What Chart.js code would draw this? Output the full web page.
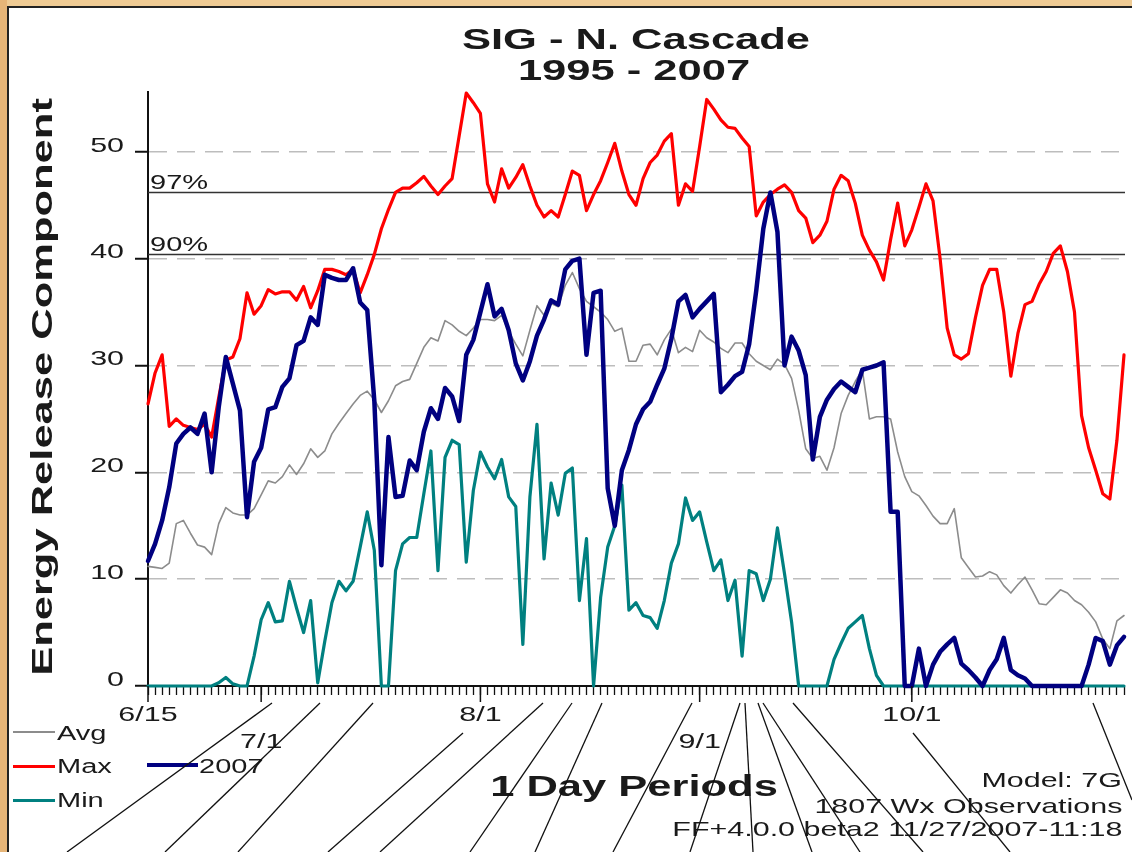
<!DOCTYPE html>
<html lang="en">
<head>
  <meta charset="UTF-8" />
  <title>SIG - N. Cascade 1995 - 2007</title>
  <script src="https://cdn.jsdelivr.net/npm/chart.js"></script>
  <style>
    html, body { margin: 0; padding: 0; background: #fff; }
    body {
      width: 1132px;
      height: 852px;
      overflow: hidden;
      font-family: 'Liberation Sans', Arial, sans-serif;
      color: #1a1a1a;
    }
    /* slide background showing round the white chart panel */
    #edgeTop { position: absolute; left: 0; top: 0; width: 1132px; height: 6px; background: #efcb94; }
    #edgeLeft { position: absolute; left: 0; top: 0; width: 7px; height: 852px; background: #e6b578; }
    #frameTop { position: absolute; left: 7px; top: 6px; width: 1125px; height: 2px; background: #222; }
    #frameLeft { position: absolute; left: 7px; top: 6px; width: 2px; height: 846px; background: #222; }
    #chart { position: absolute; left: 0; top: 0; }
    .txt { position: absolute; white-space: nowrap; line-height: 1; }
    /* the original renders its type stretched sideways */
    .mid { transform: translate(-50%, -50%) scaleX(1.45); }
    .lft { transform-origin: 0 50%; transform: translateY(-50%) scaleX(1.45); }
    .rgt { right: 10px; transform-origin: 100% 50%; transform: translateY(-50%) scaleX(1.45); }
    .key { position: absolute; }
    svg { position: absolute; left: 0; top: 0; }
  </style>
</head>
<body>
  <div id="edgeTop"></div>
  <div id="edgeLeft"></div>
  <div id="frameTop"></div>
  <div id="frameLeft"></div>
  <canvas id="chart" width="1132" height="852"></canvas>

  <div class="txt mid" style="left:636px; top:39px; font-weight:bold; font-size:30px;">SIG - N. Cascade</div>
  <div class="txt mid" style="left:634px; top:70px; font-weight:bold; font-size:30px;">1995 - 2007</div>
  <div class="txt" style="left:42px; top:387px; font-weight:bold; font-size:29px; transform: translate(-50%, -50%) rotate(-90deg) scaleX(1.5);">Energy Release Component</div>
  <div class="txt mid" style="left:634px; top:786px; font-weight:bold; font-size:30px;">1 Day Periods</div>

  <div class="key" style="left:13px; top:731px; width:42px; height:2px; background:#8c8c8c;"></div>
  <div class="txt lft" style="left:57px; top:733px; font-size:20px;">Avg</div>
  <div class="key" style="left:13px; top:765px; width:42px; height:3px; background:#ff0000;"></div>
  <div class="txt lft" style="left:57px; top:766px; font-size:20px;">Max</div>
  <div class="key" style="left:13px; top:799px; width:42px; height:3px; background:#008080;"></div>
  <div class="txt lft" style="left:57px; top:800px; font-size:20px;">Min</div>
  <div class="key" style="left:147px; top:763px; width:51px; height:4px; background:#000080;"></div>
  <div class="txt lft" style="left:199px; top:766px; font-size:20px;">2007</div>

  <div class="txt rgt" style="top:779px; font-size:21px;">Model: 7G</div>
  <div class="txt rgt" style="top:805px; font-size:21px;">1807 Wx Observations</div>
  <div class="txt rgt" style="top:828px; font-size:21px;">FF+4.0.0 beta2 11/27/2007-11:18</div>

  <!-- stray lines that run across the bottom of the scanned slide -->
  <svg width="1132" height="852" stroke="#111" stroke-width="1.3">
    <line x1="272" y1="703" x2="67" y2="852" />
    <line x1="320" y1="703" x2="165" y2="852" />
    <line x1="373" y1="703" x2="238" y2="852" />
    <line x1="463" y1="733" x2="328" y2="852" />
    <line x1="543" y1="703" x2="380" y2="852" />
    <line x1="572" y1="703" x2="470" y2="852" />
    <line x1="602" y1="703" x2="535" y2="852" />
    <line x1="692" y1="703" x2="613" y2="852" />
    <line x1="740" y1="703" x2="690" y2="852" />
    <line x1="745" y1="703" x2="753" y2="852" />
    <line x1="758" y1="703" x2="812" y2="852" />
    <line x1="763" y1="703" x2="860" y2="852" />
    <line x1="793" y1="703" x2="923" y2="852" />
    <line x1="913" y1="733" x2="1010" y2="852" />
    <line x1="1093" y1="703" x2="1132" y2="800" />
  </svg>

  <script>
    // one category per day, 6/15 .. 10/31
    const dayLabels = [];
    for (let d = new Date(2007, 5, 15); d <= new Date(2007, 9, 31); d.setDate(d.getDate() + 1)) {
      dayLabels.push((d.getMonth() + 1) + '/' + d.getDate());
    }
    const monthTicks = ['6/15', '7/1', '8/1', '9/1', '10/1'];
    const lowerRowTicks = ['7/1', '9/1'];
    const yTicks = [0, 10, 20, 30, 40, 50];
    const pctValues = [46.2, 40.4];
    const pctLabels = ['97%', '90%'];

    const erc2007 = [
      11.7, 13.3, 15.5, 18.6, 22.7, 23.6, 24.2, 23.6, 25.5, 20.0,
      26.1, 30.8, 28.3, 25.8, 15.8, 21.0, 22.3, 25.9, 26.1, 28.0,
      28.8, 31.9, 32.3, 34.5, 33.8, 38.5, 38.2, 38.0, 38.0, 39.1,
      35.9, 35.2, 26.7, 11.3, 23.3, 17.7, 17.8, 21.1, 20.2, 23.8,
      26.0, 25.0, 27.9, 27.1, 24.8, 31.0, 32.4, 35.0, 37.6, 34.6,
      35.3, 33.3, 30.2, 28.6, 30.4, 32.8, 34.3, 36.1, 35.7, 39.0,
      39.8, 40.0, 31.0, 36.8, 37.0, 18.5, 15.0, 20.2, 22.1, 24.5,
      25.9, 26.6, 28.2, 29.7, 32.5, 36.0, 36.6, 34.5, 35.3, 36.0,
      36.7, 27.5, 28.2, 29.0, 29.4, 32.0, 37.0, 42.8, 46.2, 42.5,
      30.0, 32.7, 31.4, 29.1, 21.2, 25.2, 26.8, 27.8, 28.5, 28.0,
      27.5, 29.6, 29.8, 30.0, 30.3, 16.3, 16.3, 0, 0, 3.5,
      0, 2.0, 3.2, 3.9, 4.5, 2.1, 1.5, 0.8, 0, 1.5,
      2.5, 4.5, 1.5, 1.0, 0.7, 0, 0, 0, 0, 0,
      0, 0, 0, 2.0, 4.5, 4.2, 2.0, 3.8, 4.6
    ];
    const ercMax = [
      26.4, 29.3, 31.0, 24.3, 25.0, 24.4, 24.2, 24.0, 24.5, 23.3,
      27.0, 30.5, 30.8, 32.5, 36.8, 34.8, 35.6, 37.1, 36.7, 36.9,
      36.9, 36.1, 37.4, 35.4, 37.0, 39.0, 39.0, 38.8, 38.5, 39.0,
      36.8, 38.5, 40.4, 42.8, 44.6, 46.2, 46.6, 46.6, 47.1, 47.7,
      46.8, 46.0, 46.8, 47.5, 51.5, 55.5, 54.6, 53.6, 47.0, 45.3,
      48.4, 46.6, 47.6, 48.8, 46.8, 45.0, 43.9, 44.5, 43.9, 46.0,
      48.2, 47.8, 44.5, 46.0, 47.3, 49.0, 50.8, 48.2, 46.0, 45.0,
      47.5, 49.0, 49.7, 51.0, 51.7, 45.0, 47.0, 46.3, 50.5, 54.9,
      54.0, 53.0, 52.3, 52.2, 51.3, 50.5, 44.0, 45.3, 46.0, 46.5,
      46.9, 46.2, 44.5, 43.8, 41.5, 42.2, 43.5, 46.5, 47.8, 47.3,
      45.2, 42.2, 40.8, 39.7, 38.0, 41.8, 45.2, 41.2, 42.7, 44.8,
      47.0, 45.4, 40.0, 33.5, 31.0, 30.6, 31.1, 34.5, 37.5, 39.0,
      39.0, 35.0, 29.0, 33.0, 35.7, 36.0, 37.6, 38.8, 40.5, 41.2,
      38.8, 35.0, 25.3, 22.3, 20.2, 18.0, 17.5, 23.0, 31.0
    ];
    const ercMin = [
      0, 0, 0, 0, 0, 0, 0, 0, 0, 0,
      0.3, 0.8, 0.2, 0, 0, 2.8, 6.2, 7.8, 6.0, 6.1,
      9.8, 7.3, 5.0, 8.0, 0.3, 4.2, 7.8, 9.8, 8.9, 9.8,
      13.0, 16.3, 12.7, 0, 0, 10.8, 13.3, 13.9, 13.9, 18.0,
      22.0, 10.8, 21.4, 23.0, 22.6, 11.6, 18.3, 21.9, 20.5, 19.4,
      21.2, 17.7, 16.8, 3.9, 17.7, 24.5, 11.9, 19.0, 16.0, 19.9,
      20.4, 8.0, 13.8, 0, 8.3, 13.0, 15.0, 18.8, 7.1, 7.8,
      6.6, 6.4, 5.4, 8.0, 11.5, 13.3, 17.6, 15.5, 16.3, 13.5,
      10.8, 11.8, 8.0, 9.9, 2.8, 10.8, 10.5, 8.0, 10.0, 14.8,
      10.5, 6.0, 0, 0, 0, 0, 0, 2.5, 4.0, 5.4,
      6.0, 6.6, 3.5, 1.0, 0, 0, 0, 0, 0, 0,
      0, 0, 0, 0, 0, 0, 0, 0, 0, 0,
      0, 0, 0, 0, 0, 0, 0, 0, 0, 0,
      0, 0, 0, 0, 0, 0, 0, 0, 0
    ];
    const ercAvg = [
      11.2, 11.1, 11.0, 11.5, 15.2, 15.5, 14.3, 13.2, 13.0, 12.3,
      15.2, 16.7, 16.2, 16.0, 16.0, 16.6, 17.9, 19.2, 19.0, 19.6,
      20.7, 19.8, 20.8, 22.2, 21.4, 22.0, 23.6, 24.6, 25.5, 26.4,
      27.2, 27.6, 26.8, 25.6, 26.7, 28.1, 28.5, 28.7, 30.2, 31.7,
      32.6, 32.3, 34.2, 33.8, 33.2, 32.8, 33.5, 34.3, 34.3, 34.2,
      34.7, 33.2, 32.0, 30.9, 33.3, 35.6, 34.7, 35.8, 35.5, 37.5,
      38.7, 37.2, 36.0, 35.5, 35.0, 34.3, 33.2, 33.5, 30.4, 30.4,
      31.9, 32.0, 31.0, 32.4, 33.4, 31.2, 31.7, 31.3, 33.3, 32.6,
      32.2, 31.6, 31.2, 32.1, 32.1, 31.1, 30.4, 30.0, 29.6, 30.6,
      30.1, 28.8, 25.8, 22.2, 21.3, 21.5, 20.2, 22.3, 25.5, 27.2,
      28.5, 29.6, 25.0, 25.2, 25.2, 25.0, 21.9, 19.6, 18.2, 17.8,
      16.9, 15.9, 15.2, 15.2, 16.6, 12.0, 11.1, 10.2, 10.3, 10.7,
      10.4, 9.4, 8.7, 9.5, 10.2, 9.0, 7.7, 7.6, 8.3, 9.0,
      8.7, 8.0, 7.6, 6.9, 6.0, 4.4, 3.5, 6.1, 6.6
    ];

    const SX = 1.45;
    const FONT = '21px "Liberation Sans", Arial, sans-serif';

    function stretchedText(ctx, text, x, y, align) {
      ctx.save();
      ctx.translate(x, y);
      ctx.scale(SX, 1);
      ctx.textAlign = align;
      ctx.fillText(text, 0, 0);
      ctx.restore();
    }

    // 97% / 90% reference lines, under the series
    const pctLines = {
      id: 'pctLines',
      beforeDatasetsDraw(chart) {
        const { ctx, chartArea, scales: { y } } = chart;
        ctx.save();
        ctx.strokeStyle = '#333';
        ctx.lineWidth = 1.5;
        ctx.fillStyle = '#1a1a1a';
        ctx.font = '20px "Liberation Sans", Arial, sans-serif';
        ctx.textBaseline = 'alphabetic';
        pctValues.forEach((v, i) => {
          const py = y.getPixelForValue(v);
          ctx.beginPath();
          ctx.moveTo(chartArea.left, py);
          ctx.lineTo(chartArea.right + 1, py);
          ctx.stroke();
          stretchedText(ctx, pctLabels[i], chartArea.left + 2, py - 3, 'left');
        });
        ctx.restore();
      }
    };

    // axis labels in the stretched type, plus the longer month ticks
    const axisText = {
      id: 'axisText',
      afterDraw(chart) {
        const { ctx, scales: { x, y } } = chart;
        ctx.save();
        ctx.fillStyle = '#1a1a1a';
        ctx.font = FONT;
        ctx.textBaseline = 'middle';
        y.ticks.forEach((t) => {
          stretchedText(ctx, String(t.value), 124, y.getPixelForValue(t.value) - 6, 'right');
        });
        ctx.strokeStyle = '#111';
        ctx.lineWidth = 1.5;
        monthTicks.forEach((lbl) => {
          const idx = chart.data.labels.indexOf(lbl);
          const px = x.getPixelForValue(idx);
          ctx.beginPath();
          ctx.moveTo(px, x.top);
          ctx.lineTo(px, x.top + 16);
          ctx.stroke();
          const py = lowerRowTicks.includes(lbl) ? 742 : 715;
          stretchedText(ctx, lbl, px, py, 'center');
        });
        ctx.restore();
      }
    };

    new Chart(document.getElementById('chart'), {
      type: 'line',
      data: {
        labels: dayLabels,
        datasets: [
          { label: '2007', data: erc2007, borderColor: '#000080', borderWidth: 4.5, clip: false },
          { label: 'Max', data: ercMax, borderColor: '#ff0000', borderWidth: 3.2, clip: false },
          { label: 'Min', data: ercMin, borderColor: '#008080', borderWidth: 3.2, clip: false },
          { label: 'Avg', data: ercAvg, borderColor: '#8c8c8c', borderWidth: 1.6, clip: false }
        ]
      },
      options: {
        responsive: false,
        animation: false,
        devicePixelRatio: 1,
        layout: { padding: { top: 92, right: 8, left: 0, bottom: 0 } },
        elements: {
          point: { radius: 0 },
          line: { tension: 0, borderJoinStyle: 'round', borderCapStyle: 'round' }
        },
        plugins: { legend: { display: false }, tooltip: { enabled: false } },
        scales: {
          x: {
            type: 'category',
            offset: false,
            grid: { drawOnChartArea: false, tickLength: 9, tickColor: '#111', tickWidth: 1.3 },
            border: { color: '#111', width: 2 },
            ticks: { display: false, autoSkip: false, maxRotation: 0 },
            afterFit: (s) => { s.height = 166; }
          },
          y: {
            min: 0,
            max: 55.6,
            afterBuildTicks: (s) => { s.ticks = yTicks.map(v => ({ value: v })); },
            grid: {
              color: (c) => (c.tick && c.tick.value === 0 ? 'rgba(0,0,0,0)' : '#bdbdbd'),
              lineWidth: 1.5,
              tickLength: 13,
              tickColor: '#111',
              tickWidth: 2
            },
            border: { color: '#111', width: 2, dash: [18, 10] },
            ticks: { display: false },
            afterFit: (s) => { s.width = 148; }
          }
        }
      },
      plugins: [pctLines, axisText]
    });
  </script>
</body>
</html>
